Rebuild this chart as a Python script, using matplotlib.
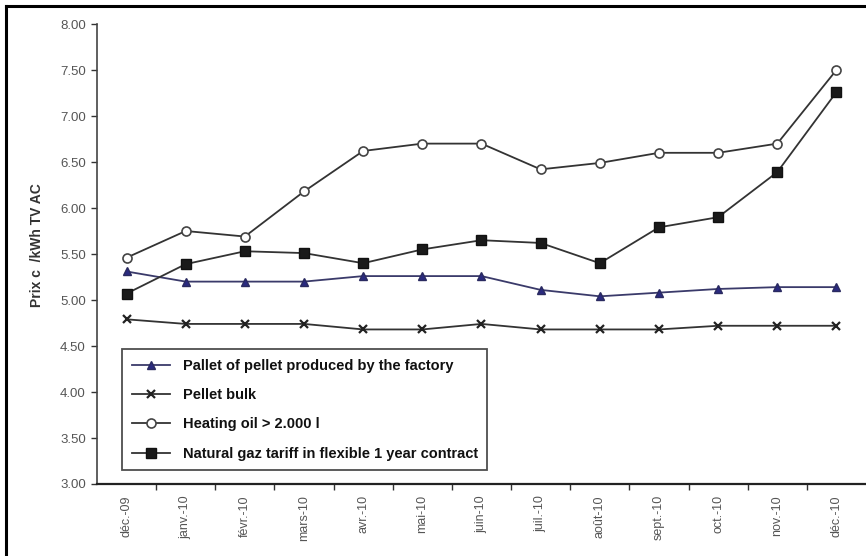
import matplotlib
matplotlib.use("Agg")
import matplotlib.pyplot as plt
from matplotlib.lines import Line2D

plt.rcParams['font.family'] = ['Liberation Sans', 'DejaVu Sans']

# months on x axis
months = ['déc.-09', 'janv.-10', 'févr.-10', 'mars-10', 'avr.-10', 'mai-10', 'juin-10',
          'juil.-10', 'août-10', 'sept.-10', 'oct.-10', 'nov.-10', 'déc.-10']

# price series (c€/kWh TTC)
pallet = [5.31, 5.20, 5.20, 5.20, 5.26, 5.26, 5.26, 5.11, 5.04, 5.08, 5.12, 5.14, 5.14]
bulk = [4.79, 4.74, 4.74, 4.74, 4.68, 4.68, 4.74, 4.68, 4.68, 4.68, 4.72, 4.72, 4.72]
heating_oil = [5.46, 5.75, 5.69, 6.18, 6.62, 6.70, 6.70, 6.42, 6.49, 6.60, 6.60, 6.70, 7.50]
natural_gas = [5.07, 5.39, 5.53, 5.51, 5.40, 5.55, 5.65, 5.62, 5.40, 5.79, 5.90, 6.39, 7.26]

labels = ['Pallet of pellet produced by the factory', 'Pellet bulk',
          'Heating oil > 2.000 l', 'Natural gaz tariff in flexible 1 year contract']

yticks = [3.0, 3.5, 4.0, 4.5, 5.0, 5.5, 6.0, 6.5, 7.0, 7.5, 8.0]

fig = plt.figure(figsize=(8.66, 5.56), dpi=100)
ax = fig.add_axes([0.112, 0.1295, 0.888, 0.8273])

x = list(range(len(months)))
lc = '#333333'
ax.plot(x, pallet, color='#3a3a6a', lw=1.3, marker='^', ms=6,
        mfc='#2a2a80', mec='#2a2a60', label=labels[0])
ax.plot(x, bulk, color=lc, lw=1.3, marker='x', ms=6, mew=1.6,
        mec='#222222', label=labels[1])
ax.plot(x, heating_oil, color=lc, lw=1.3, marker='o', ms=6.5,
        mfc='white', mec='#444444', mew=1.2, label=labels[2])
ax.plot(x, natural_gas, color=lc, lw=1.3, marker='s', ms=7,
        mfc='#1a1a1a', mec='#111111', label=labels[3])

ax.set_xlim(-0.5, len(months) - 0.5)
ax.set_ylim(3.0, 8.0)
ax.set_yticks(yticks)
ax.set_yticklabels([f'{v:.2f}' for v in yticks], fontsize=9.5, color='#555555')
ax.set_xticks(x)
ax.set_xticklabels(months, rotation=90, fontsize=9, color='#555555')
ax.set_xticks([i + 0.5 for i in x[:-1]], minor=True)
ax.tick_params(axis='x', which='major', length=0, pad=8)
ax.tick_params(axis='x', which='minor', length=4, width=1, color='#333333', direction='out')
ax.tick_params(axis='y', length=4, width=1, color='#333333', direction='out', pad=4)

for s in ['top', 'right']:
    ax.spines[s].set_visible(False)
ax.spines['left'].set_color('#444444')
ax.spines['bottom'].set_color('#222222')
ax.spines['bottom'].set_linewidth(1.6)
ax.spines['left'].set_linewidth(1.2)

fig.text(0.043, 0.56, 'Prix c  /kWh TV AC', rotation=90, fontsize=10,
         fontweight='bold', color='#333333', ha='center', va='center')

leg = ax.legend(loc='lower left', bbox_to_anchor=(0.033, 0.030), frameon=True,
                fancybox=False, edgecolor='#222222', prop={'weight': 'bold', 'size': 10.5},
                labelspacing=1.05, handlelength=2.6, handletextpad=0.9,
                borderpad=0.65, borderaxespad=0)
leg.get_frame().set_linewidth(1.3)
for t in leg.get_texts():
    t.set_color('#111111')

# partial outer frame (left and top borders)
fig.add_artist(Line2D([6 / 866, 6 / 866], [0, 1 - 6 / 556], color='black', lw=2.2,
                      transform=fig.transFigure))
fig.add_artist(Line2D([6 / 866, 1], [1 - 6 / 556, 1 - 6 / 556], color='black', lw=2.2,
                      transform=fig.transFigure))

fig.savefig('out.png', dpi=100)
